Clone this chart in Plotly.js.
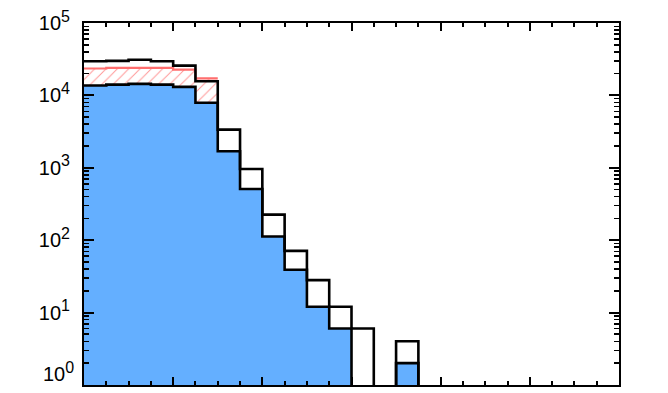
<!DOCTYPE html>
<html>
<head>
<meta charset="utf-8">
<script src="https://cdn.plot.ly/plotly-3.0.1.min.js"></script>
<style>
  html, body { margin: 0; padding: 0; background: #fff; }
  #chart { width: 668px; height: 393px; }
</style>
</head>
<body>
<div id="chart"></div>
<script>
// histogram, 24 bins of width 0.25 from 0 to 6
const binWidth = 0.25;
const totalCounts = [29600, 30000, 31000, 29600, 25800, 15700, 3360, 962, 225, 71, 28, 12,
                     6, 0, 4, 0, 0, 0, 0, 0, 0, 0, 0, 0];
const blueCounts  = [13700, 14100, 14400, 14100, 13100, 7900, 1690, 509, 112, 39, 12, 6,
                     0, 0, 2, 0, 0, 0, 0, 0, 0, 0, 0, 0];
const redCounts   = [23500, 24000, 24000, 24000, 22700, 17200];

const yTickVals = [1, 10, 100, 1000, 10000, 100000];
const yExponents = ['0', '1', '2', '3', '4', '5'];

// helpers
const centers = arr => arr.map((_, i) => (i + 0.5) * binWidth);
const powLabel = e => '10<sup><span style="font-size:16px">' + e + '</span></sup>';

// step outline (shape hv) : one point per left edge + closing right edge
function steps(arr) {
    const floor = 0.3; // empty bins fall under the axis
    const xs = [], ys = [];
    arr.forEach((v, i) => { xs.push(i * binWidth); ys.push(v > 0 ? v : floor); });
    xs.push(arr.length * binWidth);
    ys.push(ys[ys.length - 1]);
    return { x: xs, y: ys };
}

// minor log ticks 2..9 per decade
const yMinor = [];
for (let d = 0; d < 5; d++) {
    for (let k = 2; k <= 9; k++) yMinor.push(k * Math.pow(10, d));
}

const redColor = 'rgb(255,110,110)';
const blue = 'rgb(100,175,255)';

const traceRedFill = {
    type: 'bar', x: centers(redCounts), y: redCounts, width: binWidth,
    marker: {
        color: 'white',
        line: { width: 0 },
        pattern: { shape: '/', fgcolor: 'rgb(255,150,150)', bgcolor: 'white', size: 8, solidity: 0.12 }
    },
    hoverinfo: 'skip'
};

const traceBlueFill = {
    type: 'bar', x: centers(blueCounts), y: blueCounts, width: binWidth,
    marker: { color: blue, line: { width: 0 } },
    hoverinfo: 'skip'
};

const redStep = steps(redCounts);
const traceRedLine = {
    type: 'scatter', mode: 'lines', x: redStep.x, y: redStep.y,
    line: { shape: 'hv', color: redColor, width: 2.2 }
};

const totStep = steps(totalCounts);
const traceTotalLine = {
    type: 'scatter', mode: 'lines', x: totStep.x, y: totStep.y,
    line: { shape: 'hv', color: 'black', width: 2.6 }
};

const blueStep = steps(blueCounts);
const traceBlueLine = {
    type: 'scatter', mode: 'lines', x: blueStep.x, y: blueStep.y,
    line: { shape: 'hv', color: 'black', width: 2.6 }
};

// the bottom label sits above its tick (it would be cut by the page edge)
const tickText = yExponents.map((e, i) => i === 0 ? '' : powLabel(e));

const layout = {
    width: 668, height: 393,
    margin: { l: 84, r: 49, t: 23, b: 8 },
    paper_bgcolor: 'white', plot_bgcolor: 'white',
    showlegend: false,
    barmode: 'overlay', bargap: 0,
    font: { family: 'Liberation Sans, Arial, sans-serif', color: 'black', size: 20 },
    xaxis: {
        range: [0, 6], dtick: 1, tick0: 0,
        showticklabels: false, showgrid: false, zeroline: false,
        ticks: 'inside', ticklen: 8, tickwidth: 2, tickcolor: 'black',
        showline: true, linecolor: 'black', linewidth: 2, mirror: 'ticks',
        minor: { dtick: 0.25, tick0: 0, ticks: 'inside', ticklen: 4, tickwidth: 2, tickcolor: 'black', showgrid: false }
    },
    yaxis: {
        type: 'log', range: [-0.0015, 5],
        tickmode: 'array', tickvals: yTickVals, ticktext: tickText,
        showgrid: false, zeroline: false,
        ticks: 'inside', ticklen: 10, tickwidth: 2, tickcolor: 'black',
        showline: true, linecolor: 'black', linewidth: 2, mirror: 'ticks',
        ticklabelstandoff: 8,
        minor: { tickmode: 'array', tickvals: yMinor, ticks: 'inside', ticklen: 5, tickwidth: 1.6, tickcolor: 'black', showgrid: false }
    },
    annotations: [{
        xref: 'paper', yref: 'y', x: 0, y: Math.log10(yTickVals[0]),
        xanchor: 'right', yanchor: 'bottom', xshift: -8, yshift: -2,
        showarrow: false, text: powLabel(yExponents[0]),
        font: { family: 'Liberation Sans, Arial, sans-serif', color: 'black', size: 20 }
    }]
};

Plotly.newPlot('chart', [traceRedFill, traceBlueFill, traceRedLine, traceTotalLine, traceBlueLine], layout,
    { staticPlot: true, displayModeBar: false });
</script>
</body>
</html>
